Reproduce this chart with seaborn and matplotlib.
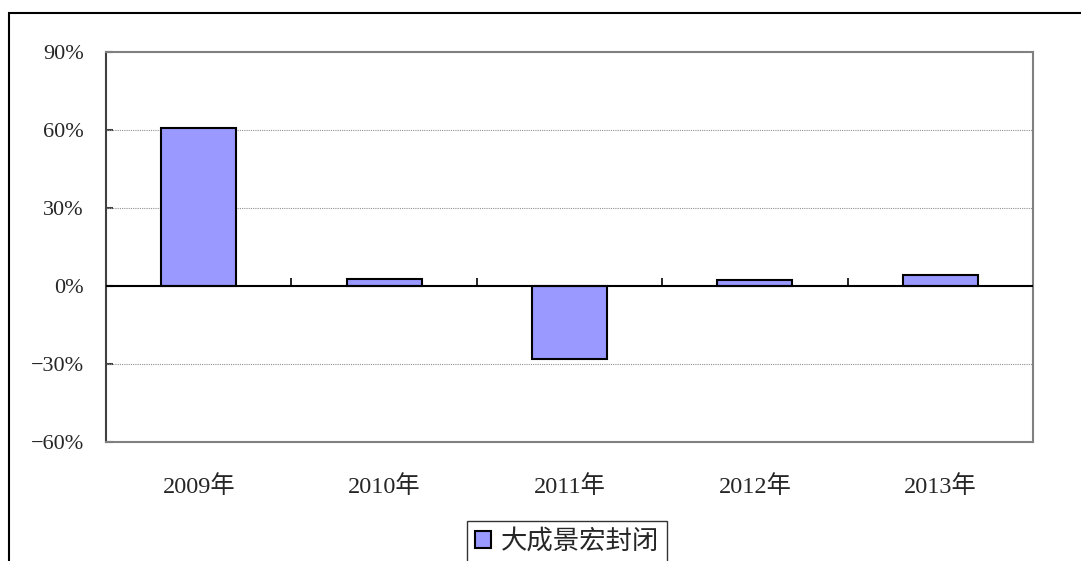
import numpy as np
import pandas as pd
import matplotlib
matplotlib.use('Agg')
import matplotlib.pyplot as plt
import seaborn as sns
from matplotlib.patches import Rectangle
from matplotlib.ticker import FuncFormatter

# data
years = ['2009年', '2010年', '2011年', '2012年', '2013年']
returns = [60.8, 2.8, -28.1, 2.3, 4.3]
fund_name = '大成景宏封闭'

y_ticks = [-60, -30, 0, 30, 60, 90]

df = pd.DataFrame({'year': years, 'ret': returns, 'fund': fund_name})

sns.set_style('white')
plt.rcParams['font.family'] = ['Liberation Serif', 'Noto Sans CJK SC']

W, H = 1081, 561
fig = plt.figure(figsize=(W / 100, H / 100), dpi=100)
ax = fig.add_axes([106 / W, 1 - 442 / H, (1033 - 106) / W, (442 - 52) / H])

sns.barplot(data=df, x='year', y='ret', hue='fund', palette=['#9999FF'],
            saturation=1, edgecolor='black', linewidth=1.5, width=0.405,
            ax=ax, zorder=3)

ax.set_xlim(-0.5, len(years) - 0.5)
ax.set_ylim(y_ticks[0], y_ticks[-1])
ax.set_yticks(y_ticks)
ax.yaxis.set_major_formatter(FuncFormatter(lambda v, p: f'{v:.0f}%'.replace('-', '\u2212')))
ax.set_xlabel('')
ax.set_ylabel('')

# gridlines
for v in y_ticks[1:-1]:
    if v != 0:
        ax.axhline(v, color='#909090', lw=0.8, ls=(0, (1, 1)), zorder=1)
ax.axhline(0, color='black', lw=1.5, zorder=4)

for side in ['top', 'right', 'bottom']:
    ax.spines[side].set_color('#808080')
    ax.spines[side].set_linewidth(1.5)
ax.spines['left'].set_color('#404040')
ax.spines['left'].set_linewidth(1.5)

ax.tick_params(axis='y', direction='in', length=5, width=1.5, color='#404040',
               pad=16, labelsize=16, left=True)
ax.tick_params(axis='x', length=0, pad=24, labelsize=17.5)

# category separator ticks on the zero line
sec = ax.secondary_xaxis(0.4)
sec.set_xticks(np.arange(-0.5, len(years)))
sec.tick_params(direction='in', length=6, width=1.2, color='black', labelbottom=False)
sec.spines['bottom'].set_visible(False)

leg = ax.legend(loc='upper center', bbox_to_anchor=(567 / W, 1 - 521 / H),
                bbox_transform=fig.transFigure, fontsize=19, frameon=True,
                fancybox=False, handlelength=0.6, handleheight=0.6,
                handletextpad=0.35, borderpad=0.3, borderaxespad=0)
leg.get_frame().set_edgecolor('black')
leg.get_frame().set_linewidth(1.0)

# outer chart border
fig.patches.append(Rectangle((9 / W, -0.1), 1.2, 1 - 13 / H + 0.1,
                             transform=fig.transFigure, fill=False,
                             edgecolor='black', lw=1.5))

fig.savefig('out.png', dpi=100)
